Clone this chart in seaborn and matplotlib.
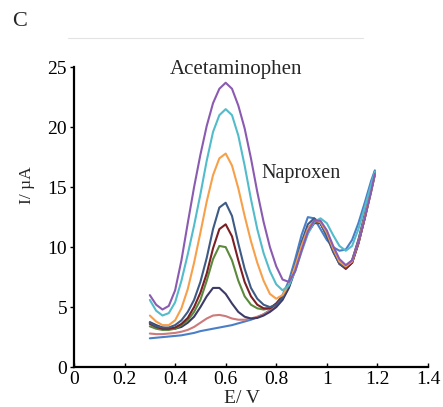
import pandas as pd
import matplotlib
matplotlib.use("Agg")
from matplotlib import pyplot as plt
from matplotlib.lines import Line2D
import seaborn as sns

# potential grid (V) shared by all voltammograms
E = [0.300, 0.325, 0.350, 0.375, 0.400, 0.425, 0.450, 0.475, 0.500, 0.525,
     0.550, 0.575, 0.600, 0.625, 0.650, 0.675, 0.700, 0.725, 0.750, 0.775,
     0.800, 0.825, 0.850, 0.875, 0.900, 0.925, 0.950, 0.975, 1.000, 1.025,
     1.050, 1.075, 1.100, 1.125, 1.150, 1.175, 1.190]

# currents (uA)
c_blue = [2.4, 2.45, 2.5, 2.55, 2.6, 2.65, 2.75, 2.85, 3.0, 3.1,
          3.2, 3.3, 3.4, 3.5, 3.65, 3.8, 3.95, 4.15, 4.4, 4.75,
          5.2, 6.0, 7.2, 9.0, 11.0, 12.5, 12.4, 11.5, 10.6, 10.0,
          9.7, 9.8, 10.6, 12.0, 13.7, 15.5, 16.4]
c_pink = [2.8, 2.75, 2.75, 2.8, 2.85, 2.95, 3.1, 3.35, 3.7, 4.05,
          4.3, 4.35, 4.25, 4.05, 3.95, 3.95, 4.05, 4.2, 4.4, 4.7,
          5.1, 5.7, 6.7, 8.2, 9.9, 11.3, 12.1, 12.0, 11.0, 9.7,
          8.7, 8.3, 8.9, 10.6, 12.7, 14.9, 16.2]
c_navy = [3.75, 3.5, 3.3, 3.2, 3.2, 3.35, 3.7, 4.2, 5.0, 5.9,
          6.6, 6.6, 6.1, 5.3, 4.6, 4.2, 4.05, 4.1, 4.3, 4.6,
          5.0, 5.6, 6.6, 8.1, 9.8, 11.2, 12.0, 12.0, 11.1, 9.8,
          8.7, 8.2, 8.7, 10.4, 12.5, 14.8, 16.2]
c_green = [3.4, 3.2, 3.1, 3.1, 3.2, 3.5, 3.9, 4.6, 5.6, 7.2,
           9.0, 10.1, 10.0, 8.9, 7.2, 5.9, 5.2, 4.9, 4.8, 4.9,
           5.3, 5.9, 6.9, 8.4, 10.1, 11.4, 12.1, 12.0, 11.1, 9.8,
           8.8, 8.3, 8.7, 10.3, 12.4, 14.6, 16.0]
c_red = [3.6, 3.35, 3.2, 3.2, 3.3, 3.6, 4.1, 5.0, 6.2, 7.8,
         9.9, 11.5, 11.9, 10.9, 8.9, 7.1, 5.9, 5.2, 4.9, 4.9,
         5.3, 5.9, 6.9, 8.4, 10.1, 11.5, 12.2, 12.0, 11.0, 9.7,
         8.6, 8.2, 8.7, 10.3, 12.4, 14.7, 16.1]
c_slate = [3.7, 3.4, 3.3, 3.3, 3.5, 3.9, 4.6, 5.6, 7.1, 9.1,
           11.5, 13.3, 13.7, 12.6, 10.3, 8.2, 6.6, 5.7, 5.2, 5.0,
           5.2, 5.8, 6.9, 8.5, 10.4, 11.9, 12.4, 12.0, 10.9, 9.6,
           8.6, 8.3, 8.9, 10.6, 12.7, 14.9, 16.3]
c_orange = [4.3, 3.8, 3.5, 3.5, 3.9, 4.9, 6.5, 8.7, 11.2, 13.8,
            16.0, 17.4, 17.8, 16.8, 14.9, 12.6, 10.5, 8.7, 7.2, 6.1,
            5.7, 6.0, 6.9, 8.4, 10.1, 11.5, 12.2, 12.1, 11.2, 9.9,
            8.8, 8.4, 8.8, 10.4, 12.5, 14.7, 16.1]
c_cyan = [5.6, 4.7, 4.3, 4.5, 5.4, 7.2, 9.4, 11.8, 14.4, 17.2,
          19.6, 21.0, 21.5, 21.0, 19.3, 16.8, 14.0, 11.5, 9.5, 8.0,
          6.9, 6.4, 6.8, 8.0, 9.6, 11.1, 12.1, 12.4, 12.0, 11.0,
          10.1, 9.7, 10.1, 11.5, 13.3, 15.2, 16.3]
c_purple = [6.0, 5.2, 4.8, 5.1, 6.4, 8.9, 12.0, 15.0, 17.7, 20.1,
            22.0, 23.2, 23.7, 23.2, 21.8, 19.9, 17.4, 14.6, 12.1, 10.0,
            8.4, 7.3, 7.1, 8.0, 9.7, 11.3, 12.2, 12.2, 11.4, 10.1,
            9.0, 8.5, 8.9, 10.4, 12.4, 14.6, 16.1]

curves = {
    "blue": c_blue, "pink": c_pink, "navy": c_navy, "green": c_green,
    "red": c_red, "slate": c_slate, "orange": c_orange, "cyan": c_cyan,
    "purple": c_purple,
}
colors = {
    "blue": "#4a7fc8", "pink": "#cc7a7a", "navy": "#3c3a66", "green": "#5b8a3c",
    "red": "#7a1f24", "slate": "#3e5b86", "orange": "#f7a04a", "cyan": "#52bccb",
    "purple": "#8a5bb0",
}

rows = []
for name, vals in curves.items():
    for e, i in zip(E, vals):
        rows.append({"E": e, "I": i, "run": name})
df = pd.DataFrame(rows)

sns.set_style("ticks")
plt.rcParams["font.family"] = ["Liberation Serif", "DejaVu Serif"]

fig = plt.figure(figsize=(4.43, 4.07), dpi=100)
ax = fig.add_axes([0.167, 0.098, 0.799, 0.737])

sns.lineplot(data=df, x="E", y="I", hue="run", palette=colors, sort=False,
             linewidth=1.5, legend=False, ax=ax)

ax.set_xlim(0, 1.4)
ax.set_ylim(0, 25)
ax.set_xticks([0, 0.2, 0.4, 0.6, 0.8, 1.0, 1.2, 1.4])
ax.set_xticklabels(["0", "0.2", "0.4", "0.6", "0.8", "1", "1.2", "1.4"])
ax.set_yticks([0, 5, 10, 15, 20, 25])
ax.tick_params(labelsize=14, length=3, width=1, colors="black", pad=2)
ax.tick_params(axis="x", direction="in", pad=3)
for s in ["left", "bottom"]:
    ax.spines[s].set_linewidth(1.6)
    ax.spines[s].set_color("black")
sns.despine(ax=ax)

ax.set_xlabel("E/ V", fontsize=14, labelpad=0)
ax.set_ylabel("I/ µA", fontsize=12.5, labelpad=2)
ax.yaxis.set_label_coords(-0.11, 0.607)
ax.xaxis.set_label_coords(0.474, -0.075)

ax.text(0.642, 24.4, "Acetaminophen", ha="center", va="baseline", fontsize=15)
ax.text(0.743, 15.75, "Naproxen", ha="left", va="baseline", fontsize=14.5)

fig.text(12 / 443, 1 - 22 / 407, "C", ha="left", va="center", fontsize=16)
fig.add_artist(Line2D([68 / 443, 363 / 443], [1 - 38 / 407, 1 - 38 / 407],
                      color="#e3e3e3", linewidth=0.8))

fig.savefig("out.png", dpi=100)
